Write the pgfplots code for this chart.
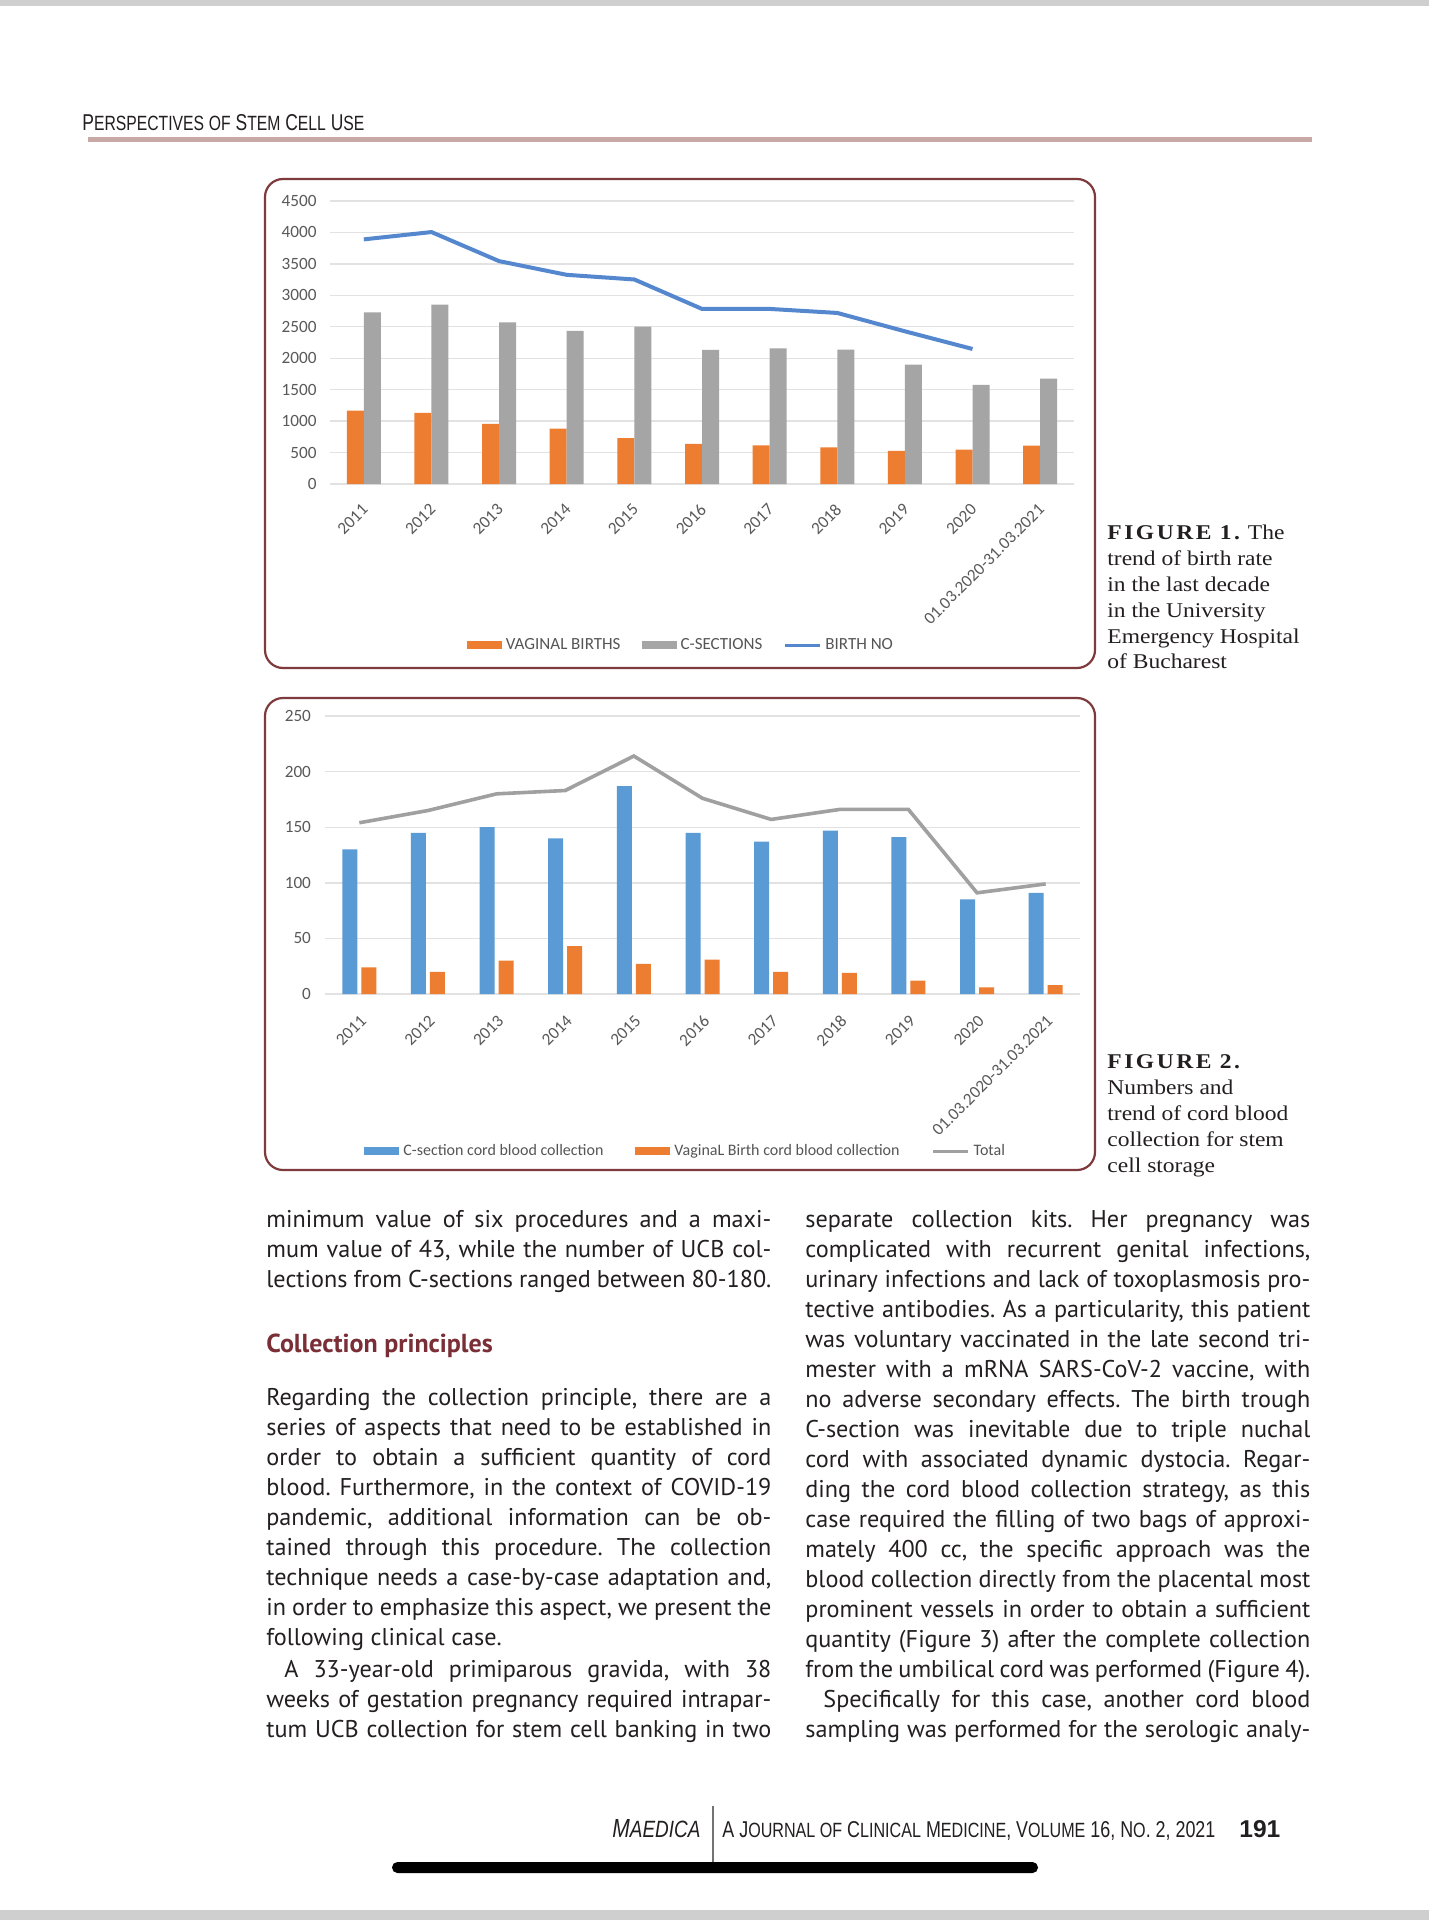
\documentclass[border=0pt]{standalone}
\usepackage{pgfplots}
\pgfplotsset{compat=1.18}
\usepackage{fontspec}
\setmainfont{PT Sans}
\newfontfamily\bodyfont{PT Sans}
\newfontfamily\capfont[FakeStretch=1.12]{Liberation Serif}
\newfontfamily\chartfont{Carlito}
\newfontfamily\headfont{Liberation Sans}
\definecolor{orangeC}{HTML}{ED7D31}
\definecolor{grayC}{HTML}{A5A5A5}
\definecolor{blueC}{HTML}{5B9BD5}
\definecolor{blueL}{HTML}{5587CF}
\definecolor{grayL}{HTML}{A0A0A0}
\definecolor{framec}{HTML}{7E3A3C}
\definecolor{headc}{HTML}{7A2E36}
\definecolor{rulec}{HTML}{C9A9A5}
\definecolor{tickc}{HTML}{595959}
\definecolor{legc}{HTML}{555555}
\definecolor{gridc}{HTML}{E2E2E2}
\definecolor{txtc}{HTML}{231F20}
\definecolor{stripc}{HTML}{CFCFCF}
\newcommand{\bsz}{\bodyfont\fontsize{12.1}{14}\selectfont\frenchspacing}
\newcommand{\JL}[3]{\node[anchor=base west,inner sep=0pt,text=txtc] at (#1,#2) {\bsz\makebox[252.5pt][s]{#3}};}
\newcommand{\LL}[3]{\node[anchor=base west,inner sep=0pt,text=txtc] at (#1,#2) {\bsz #3};}
\newcommand{\CL}[3]{\node[anchor=base west,inner sep=0pt,text=txtc] at (#1,#2) {\capfont\fontsize{10.5}{12}\selectfont #3};}
\newcommand{\FIG}[1]{{\bfseries\addfontfeature{LetterSpace=12}#1}}
\begin{document}
\begin{tikzpicture}
\path[use as bounding box, fill=white] (0pt,0pt) rectangle (714.5pt,-960pt);
\begin{scope}[x=0.5pt,y=-0.5pt]
% strips
\fill[stripc] (0,0) rectangle (1429,6);
\fill[stripc] (0,1910) rectangle (1429,1920);
% header
\node[anchor=base west,inner sep=0pt,text=txtc] at (82,131) {\resizebox{141pt}{8pt}{\headfont P{\small ERSPECTIVES} {\small OF} S{\small TEM} C{\small ELL} U{\small SE}}};
\fill[rulec] (88,137) rectangle (1312,142);
% frames
\draw[framec, line width=1.1pt, rounded corners=9pt] (265,179) rectangle (1095,668);
\draw[framec, line width=1.1pt, rounded corners=9pt] (265,698) rectangle (1095,1170);
% captions
\CL{1107}{539}{\FIG{FIGURE 1.} The}
\CL{1107}{565}{trend of birth rate}
\CL{1107}{591}{in the last decade}
\CL{1107}{617}{in the University}
\CL{1107}{643}{Emergency Hospital}
\CL{1107}{668}{of Bucharest}
\CL{1107}{1068}{\FIG{FIGURE 2.}}
\CL{1107}{1094}{Numbers and}
\CL{1107}{1120}{trend of cord blood}
\CL{1107}{1146}{collection for stem}
\CL{1107}{1172}{cell storage}
% left column
\JL{266}{1227}{minimum value of six procedures and a maxi-}
\JL{266}{1257}{mum value of 43, while the number of UCB col-}
\JL{266}{1287}{lections from C-sections ranged between 80-180.}
\node[anchor=base west,inner sep=0pt,text=headc] at (266,1352) {\bodyfont\bfseries\fontsize{13}{15}\selectfont Collection principles};
\JL{266}{1405}{Regarding the collection principle, there are a}
\JL{266}{1435}{series of aspects that need to be established in}
\JL{266}{1465}{order to obtain a sufficient quantity of cord}
\JL{266}{1495}{blood. Furthermore, in the context of COVID-19}
\JL{266}{1525}{pandemic, additional information can be ob-}
\JL{266}{1555}{tained through this procedure. The collection}
\JL{266}{1585}{technique needs a case-by-case adaptation and,}
\JL{266}{1615}{in order to emphasize this aspect, we present the}
\LL{266}{1645}{following clinical case.}
\JL{266}{1677}{\hspace*{9pt}A 33-year-old primiparous gravida, with 38}
\JL{266}{1707}{weeks of gestation pregnancy required intrapar-}
\JL{266}{1737}{tum UCB collection for stem cell banking in two}
% right column
\JL{805}{1227}{separate collection kits. Her pregnancy was}
\JL{805}{1257}{complicated with recurrent genital infections,}
\JL{805}{1287}{urinary infections and lack of toxoplasmosis pro-}
\JL{805}{1317}{tective antibodies. As a particularity, this patient}
\JL{805}{1347}{was voluntary vaccinated in the late second tri-}
\JL{805}{1377}{mester with a mRNA SARS-CoV-2 vaccine, with}
\JL{805}{1407}{no adverse secondary effects. The birth trough}
\JL{805}{1437}{C-section was inevitable due to triple nuchal}
\JL{805}{1467}{cord with associated dynamic dystocia. Regar-}
\JL{805}{1497}{ding the cord blood collection strategy, as this}
\JL{805}{1527}{case required the filling of two bags of approxi-}
\JL{805}{1557}{mately 400 cc, the specific approach was the}
\JL{805}{1587}{blood collection directly from the placental most}
\JL{805}{1617}{prominent vessels in order to obtain a sufficient}
\JL{805}{1647}{quantity (Figure 3) after the complete collection}
\JL{805}{1677}{from the umbilical cord was performed (Figure 4).}
\JL{805}{1707}{\hspace*{9pt}Specifically for this case, another cord blood}
\JL{805}{1737}{sampling was performed for the serologic analy-}
% footer
\node[anchor=base west,inner sep=0pt,text=txtc] at (612,1837) {\resizebox{44pt}{9pt}{\headfont\itshape M{\small AEDICA}}};
\draw[color=black!55, line width=0.6pt] (713,1806) -- (713,1873);
\node[anchor=base west,inner sep=0pt,text=txtc] at (722,1837) {\resizebox{246.5pt}{8pt}{\headfont A J{\small OURNAL OF} C{\small LINICAL} M{\small EDICINE}, V{\small OLUME} 16, N{\small O}. 2, 2021}};
\node[anchor=base west,inner sep=0pt,text=txtc] at (1239,1837) {\resizebox{20.5pt}{8.5pt}{\headfont\bfseries 191}};
\fill[black, rounded corners=2.7pt] (392,1862) rectangle (1038,1873);
\end{scope}

% ---------- Chart 1 ----------
\begin{axis}[
 at={(165pt,-242pt)}, anchor=south west, scale only axis,
 width=372pt, height=141.5pt,
 xmin=-0.5, xmax=10.5, ymin=0, ymax=4500,
 xtick={0,1,...,10},
 xticklabels={2011,2012,2013,2014,2015,2016,2017,2018,2019,2020,01.03.2020-31.03.2021},
 ytick={0,500,...,4500},
 ybar=0pt, bar width=8.5pt,
 ymajorgrids, grid style={draw=gridc, line width=0.7pt},
 axis line style={draw=none}, major tick length=0pt,
 tick label style={font=\chartfont\fontsize{8.6}{10}\selectfont, text=tickc, /pgf/number format/assume math mode=true, /pgf/number format/1000 sep={}},
 yticklabel style={xshift=-3.2pt},
 xticklabel style={rotate=45, anchor=east, inner sep=1pt, xshift=-6.5pt, yshift=-8.5pt},
 legend style={at={(0.473,-0.569)}, anchor=center, draw=none, fill=none, legend columns=3, font=\chartfont\fontsize{8.5}{10}\selectfont, text=legc, /tikz/every even column/.append style={column sep=8.5pt}},
 legend cell align=left, clip=false,
]
\addplot[fill=orangeC, draw=none, legend image code/.code={\fill[orangeC] (0pt,-2.2pt) rectangle (17.5pt,2.2pt);}] coordinates {(0,1165) (1,1132) (2,956) (3,882) (4,728) (5,638) (6,616) (7,584) (8,526) (9,547) (10,611)};
\addlegendentry{VAGINAL BIRTHS}
\addplot[fill=grayC, draw=none, legend image code/.code={\fill[grayC] (0pt,-2.2pt) rectangle (17.5pt,2.2pt);}] coordinates {(0,2731) (1,2853) (2,2572) (3,2434) (4,2503) (5,2131) (6,2157) (7,2136) (8,1897) (9,1578) (10,1674)};
\addlegendentry{C-SECTIONS}
\addplot[sharp plot, draw=blueL, line width=2pt, mark=none, legend image code/.code={\draw[blueL, line width=1.5pt] (0pt,0pt) -- (17.5pt,0pt);}] coordinates {(0,3890) (1,4006) (2,3544) (3,3326) (4,3252) (5,2784) (6,2784) (7,2720) (8,2428) (9,2147)};
\addlegendentry{BIRTH NO}
\end{axis}

% ---------- Chart 2 ----------
\begin{axis}[
 at={(162.5pt,-497pt)}, anchor=south west, scale only axis,
 width=377.5pt, height=139pt,
 xmin=-0.5, xmax=10.5, ymin=0, ymax=250,
 xtick={0,1,...,10},
 xticklabels={2011,2012,2013,2014,2015,2016,2017,2018,2019,2020,01.03.2020-31.03.2021},
 ytick={0,50,...,250},
 ybar=2pt, bar width=7.5pt,
 ymajorgrids, grid style={draw=gridc, line width=0.7pt},
 axis line style={draw=none}, major tick length=0pt,
 tick label style={font=\chartfont\fontsize{8.6}{10}\selectfont, text=tickc, /pgf/number format/assume math mode=true},
 yticklabel style={xshift=-3.5pt},
 xticklabel style={rotate=45, anchor=east, inner sep=1pt, xshift=-6pt, yshift=-10pt},
 legend style={at={(0.479,-0.565)}, anchor=center, draw=none, fill=none, legend columns=3, font=\chartfont\fontsize{8}{10}\selectfont, text=legc, /tikz/every even column/.append style={column sep=14pt}},
 legend cell align=left, clip=false,
]
\addplot[fill=blueC, draw=none, legend image code/.code={\fill[blueC] (0pt,-2.2pt) rectangle (17.5pt,2.2pt);}] coordinates {(0,130) (1,145) (2,150) (3,140) (4,187) (5,145) (6,137) (7,147) (8,141) (9,85) (10,91)};
\addlegendentry{C-section cord blood collection}
\addplot[fill=orangeC, draw=none, legend image code/.code={\fill[orangeC] (0pt,-2.2pt) rectangle (17.5pt,2.2pt);}] coordinates {(0,24) (1,20) (2,30) (3,43) (4,27) (5,31) (6,20) (7,19) (8,12) (9,6) (10,8)};
\addlegendentry{VaginaL Birth cord blood collection}
\addplot[sharp plot, draw=grayL, line width=1.8pt, mark=none, legend image code/.code={\draw[grayL, line width=1.5pt] (0pt,0pt) -- (17.5pt,0pt);}] coordinates {(0,154) (1,165) (2,180) (3,183) (4,214) (5,176) (6,157) (7,166) (8,166) (9,91) (10,99)};
\addlegendentry{Total}
\end{axis}
\end{tikzpicture}
\end{document}
